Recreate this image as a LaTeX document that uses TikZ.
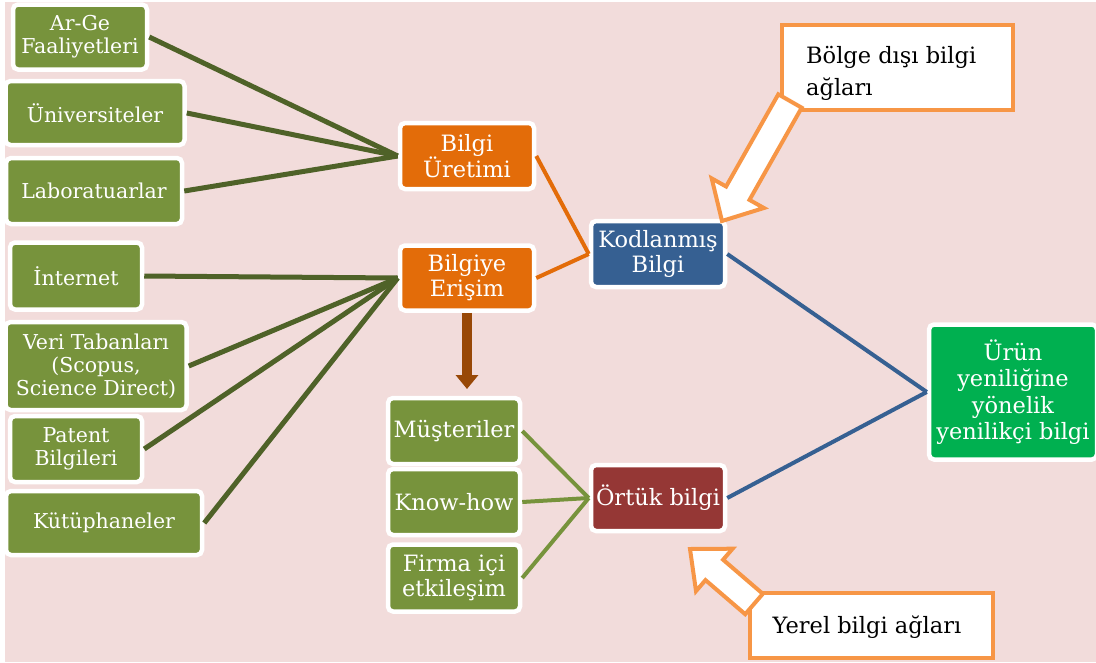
\documentclass[tikz,border=0pt]{standalone}
\usepackage{fontspec}
\setmainfont{DejaVu Serif}
\usetikzlibrary{arrows.meta}
\definecolor{bgpink}{HTML}{F2DCDB}
\definecolor{boxgreen}{HTML}{77933C}
\definecolor{darkgreen}{HTML}{4F6228}
\definecolor{boxorange}{HTML}{E36C09}
\definecolor{boxblue}{HTML}{366092}
\definecolor{boxred}{HTML}{953735}
\definecolor{brightgreen}{HTML}{00B050}
\definecolor{calloutorange}{HTML}{F79646}
\definecolor{brownarrow}{HTML}{984807}
\tikzset{
  box/.style={draw=white, line width=4.5pt, rounded corners=5pt, text=white,
    align=center, inner sep=0pt, font=\fontsize{20.5}{23}\selectfont},
  gbox/.style={box, fill=boxgreen},
  mbox/.style={box, font=\fontsize{22.5}{25}\selectfont},
  obox/.style={mbox, fill=boxorange},
  callout/.style={draw=calloutorange, line width=4pt, fill=white, inner sep=0pt},
  calltext/.style={text=black, align=left, inner sep=0pt, font=\fontsize{22.5}{32}\selectfont},
  dkline/.style={draw=darkgreen, line width=5pt},
  orline/.style={draw=boxorange, line width=4pt},
  lgline/.style={draw=boxgreen, line width=4pt},
  blline/.style={draw=boxblue, line width=4pt},
  blockarrow/.style={draw=calloutorange, line width=4pt, fill=white, line join=miter}
}
\begin{document}
\begin{tikzpicture}[x=1pt,y=-1pt]
\useasboundingbox (0,0) rectangle (1096,662);
\fill[white] (0,0) rectangle (1096,662);
\fill[bgpink] (5,2) rectangle (1096,662);

% left boxes
\node[gbox, minimum width=134, minimum height=65] (arge) at (80,37) {Ar-Ge\\Faaliyetleri};
\node[gbox, minimum width=179, minimum height=64] (univ) at (95,113) {Üniversiteler};
\node[gbox, minimum width=176, minimum height=66] (lab) at (94,191) {Laboratuarlar};
\node[gbox, minimum width=132, minimum height=67] (inet) at (76,276) {İnternet};
\node[gbox, minimum width=181, minimum height=88] (veri) at (96,366) {Veri Tabanları\\(Scopus,\\Science Direct)};
\node[gbox, minimum width=132, minimum height=66] (patent) at (76,449) {Patent\\Bilgileri};
\node[gbox, minimum width=196, minimum height=64] (kutup) at (104,523) {Kütüphaneler};

% middle
\node[obox, minimum width=134, minimum height=66] (uretim) at (467,156) {Bilgi\\Üretimi};
\node[obox, minimum width=134, minimum height=65] (erisim) at (467,278) {Bilgiye\\Erişim};
\node[mbox, fill=boxblue, minimum width=134, minimum height=66] (kod) at (658,254) {Kodlanmış\\Bilgi};

\node[mbox, fill=boxgreen, minimum width=132, minimum height=66] (must) at (454,431) {Müşteriler};
\node[mbox, fill=boxgreen, minimum width=132, minimum height=66] (know) at (454,502) {Know-how};
\node[mbox, fill=boxgreen, minimum width=132, minimum height=67] (firma) at (454,578) {Firma içi\\etkileşim};
\node[mbox, fill=boxred, minimum width=134, minimum height=66] (ortuk) at (658,498) {Örtük bilgi};

\node[box, fill=brightgreen, minimum width=168, minimum height=135, font=\fontsize{22.5}{26.5}\selectfont] (urun) at (1013,392) {Ürün\\yeniliğine\\yönelik\\yenilikçi bilgi};

% connectors
\draw[dkline] (arge.east) -- (uretim.west);
\draw[dkline] (univ.east) -- (uretim.west);
\draw[dkline] (lab.east) -- (uretim.west);
\draw[dkline] (inet.east) -- (erisim.west);
\draw[dkline] (veri.east) -- (erisim.west);
\draw[dkline] (patent.east) -- (erisim.west);
\draw[dkline] (kutup.east) -- (erisim.west);

\draw[orline] (uretim.east) -- (kod.west);
\draw[orline] (erisim.east) -- (kod.west);

\draw[lgline] (must.east) -- (ortuk.west);
\draw[lgline] (know.east) -- (ortuk.west);
\draw[lgline] (firma.east) -- (ortuk.west);

\draw[blline] (kod.east) -- (urun.west);
\draw[blline] (ortuk.east) -- (urun.west);

% brown arrow
\coordinate (btip) at (467,389);
\draw[draw=brownarrow, line width=10pt, -{Triangle[width=22pt,length=14pt]}] (erisim.south) -- (btip);

% callout: Bölge dışı bilgi ağları
\node[callout, minimum width=231, minimum height=85] (bolge) at (897.5,67.5) {};
\draw[blockarrow] (801.7,107.7) -- (749.5,199.9) -- (763.9,208.0) -- (722,221) -- (711.7,178.4) -- (726.1,186.5) -- (778.3,94.3) -- cycle;
\node[calltext, anchor=base west] (bolgetext) at (806,95) {Bölge dışı bilgi\\ağları};

% callout: Yerel bilgi ağları
\node[callout, minimum width=243, minimum height=65] (yerel) at (871.5,625.5) {};
\draw[blockarrow] (745.2,614.2) -- (705.5,580.1) -- (696.0,591.1) -- (690,549) -- (732.6,548.7) -- (723.1,559.7) -- (762.8,593.8) -- cycle;
\node[calltext, anchor=base] (yereltext) at (867,633) {Yerel bilgi ağları};
\end{tikzpicture}
\end{document}
